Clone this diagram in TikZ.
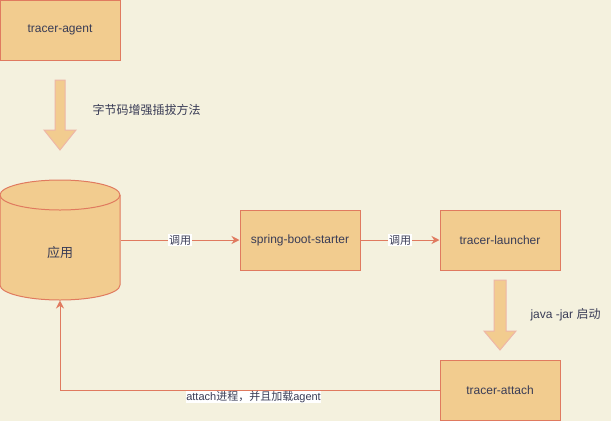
\documentclass[tikz,border=0pt]{standalone}
\usepackage{fontspec}
\setmainfont{Liberation Sans}
\newfontfamily\cjk{Noto Sans CJK SC}
\usepackage{tikz}
\usetikzlibrary{arrows.meta,positioning}
\definecolor{bgc}{HTML}{F4F1DE}
\definecolor{boxc}{HTML}{F2CC8F}
\definecolor{edgec}{HTML}{E07A5F}
\definecolor{txtc}{HTML}{393C56}

\begin{document}
\begin{tikzpicture}[x=1pt,y=-1pt,line width=1pt,
  box/.style={draw=edgec,fill=boxc,minimum width=120pt,minimum height=60pt,inner sep=0pt,text=txtc,font=\fontsize{12}{14}\selectfont},
  lbl/.style={fill=white,text=txtc,inner sep=0.6pt,font=\fontsize{11}{13}\selectfont},
  note/.style={text=txtc,inner sep=0pt,anchor=west,font=\fontsize{12}{14}\selectfont},
  conn/.style={draw=edgec,-{Stealth[length=8pt,width=8pt]}},
  barrow/.style={fill=boxc,draw=edgec!55,line width=1pt}]
\fill[bgc] (0,0) rectangle (611,421);
\useasboundingbox (0,0) rectangle (611,421);
%%%% boxes
\node[box] (agent) at (60,30) {tracer-agent};
\node[box] (starter) at (300,240) {spring-boot-starter};
\node[box] (launcher) at (500,240) {tracer-launcher};
\node[box] (attach) at (500,390) {tracer-attach};
%%%% cylinder
\filldraw[draw=edgec,fill=boxc] (0,195) -- (0,285)
  arc[start angle=180,end angle=0,x radius=60,y radius=15] -- (120,195)
  arc[start angle=0,end angle=-180,x radius=60,y radius=15] -- cycle;
\draw[edgec] (0,195) arc[start angle=180,end angle=0,x radius=60,y radius=15];
\node[minimum width=120pt,minimum height=120pt,inner sep=0pt] (app) at (60,240) {};
\node[text=txtc,font=\fontsize{13}{15}\selectfont\cjk] (applbl) at (60,253) {应用};
%%%% block arrows
\filldraw[barrow] (55,80) -- (65,80) -- (65,130) -- (76,130) -- (60,150) -- (44,130) -- (55,130) -- cycle;
\node[note] (enhance) at (92,110) {\cjk 字节码增强插拔方法};
\filldraw[barrow] (494,280) -- (506,280) -- (506,331) -- (516,331) -- (500,350) -- (484,331) -- (494,331) -- cycle;
\node[note] (javajar) at (530,315) {java -jar {\cjk 启动}};
%%%% connectors
\draw[conn] (app.east) -- node[lbl]{\cjk 调用} (starter.west);
\draw[conn] (starter.east) -- node[lbl]{\cjk 调用} (launcher.west);
\draw[conn] (attach.west) -| node[lbl,below,pos=0.245]{attach{\cjk 进程，并且加载}agent} (app.south);
\end{tikzpicture}
\end{document}
